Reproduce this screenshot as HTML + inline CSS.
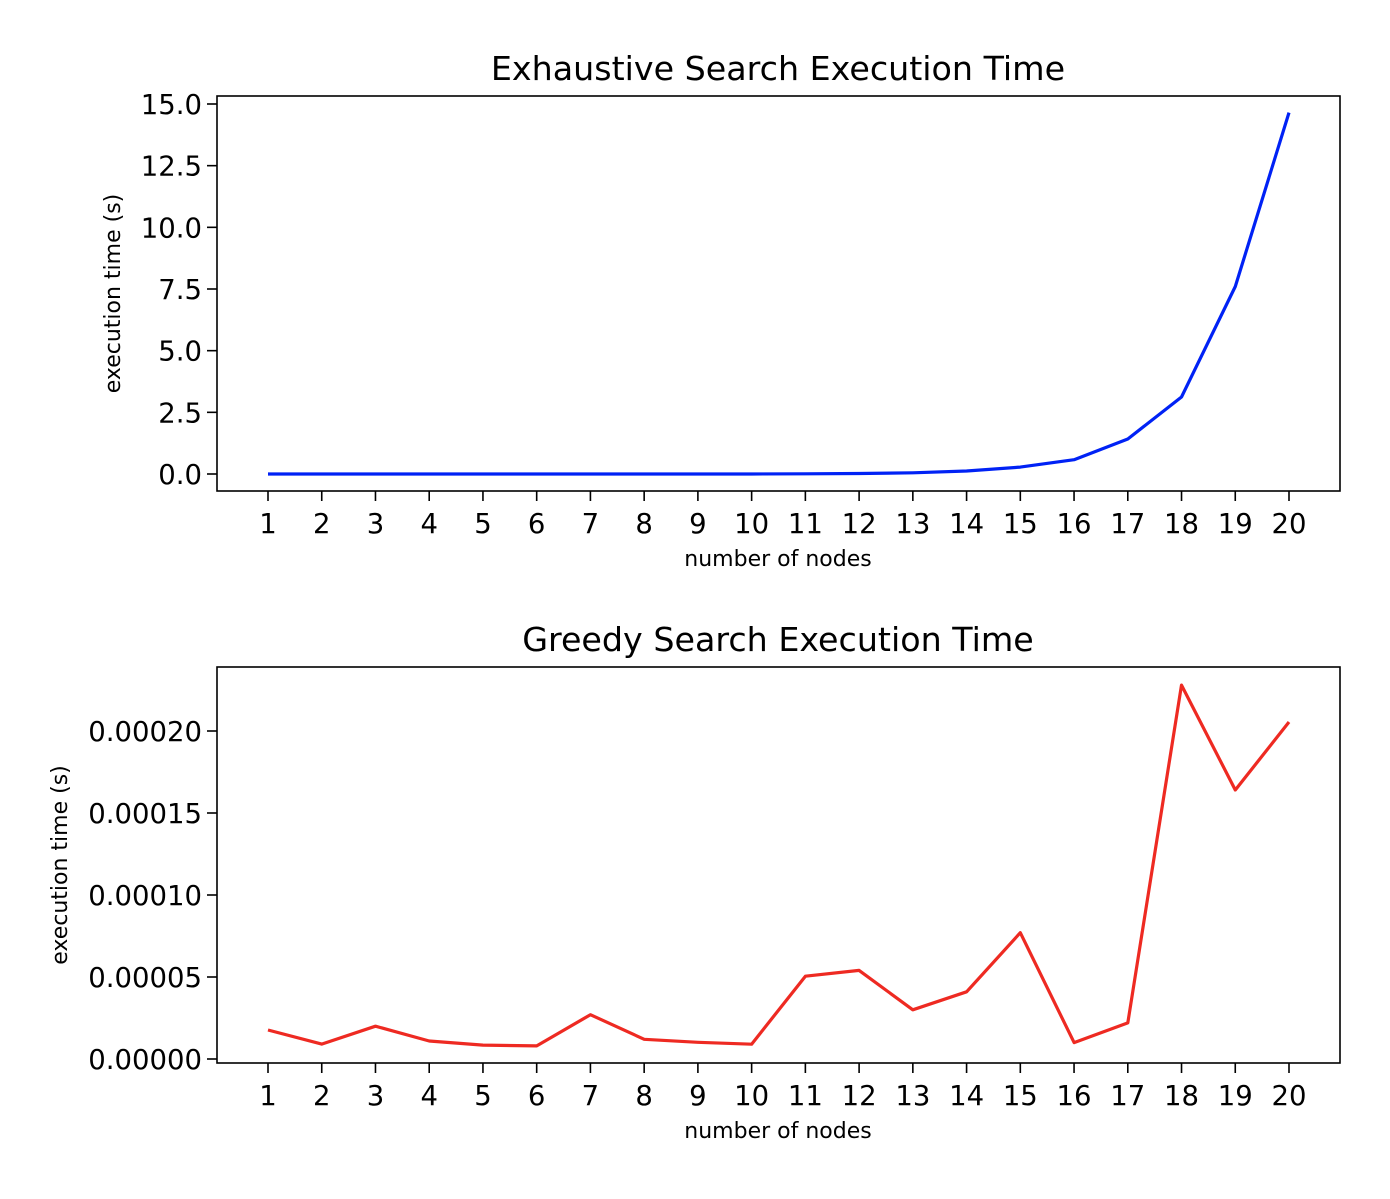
<!DOCTYPE html>
<html><head><meta charset="utf-8"><style>
body{margin:0;background:#fff}
svg{font-family:"DejaVu Sans","Liberation Sans",sans-serif}
</style></head><body>
<svg id="c" width="1390" height="1194" viewBox="0 0 1390 1194" xmlns="http://www.w3.org/2000/svg"></svg>
<script>
const nodes=[1,2,3,4,5,6,7,8,9,10,11,12,13,14,15,16,17,18,19,20];
const exhaustiveTimes=[0,0,0,0,0,0,0,0,0,0,0.01,0.02,0.05,0.12,0.28,0.58,1.42,3.12,7.6,14.65];
const greedyTimes=[1.77e-5,0.91e-5,2.0e-5,1.1e-5,0.85e-5,0.8e-5,2.7e-5,1.2e-5,1.02e-5,0.9e-5,5.05e-5,5.4e-5,3.0e-5,4.1e-5,7.7e-5,1.0e-5,2.2e-5,22.8e-5,16.4e-5,20.55e-5];
const exhaustiveTicks=[0,2.5,5,7.5,10,12.5,15];
const exhaustiveTickLabels=["0.0","2.5","5.0","7.5","10.0","12.5","15.0"];
const greedyTicks=[0,5e-5,10e-5,15e-5,20e-5];
const greedyTickLabels=["0.00000","0.00005","0.00010","0.00015","0.00020"];
const NS="http://www.w3.org/2000/svg";
const svg=document.getElementById('c');
function mk(tag,attrs,parent){const e=document.createElementNS(NS,tag);for(const k in attrs)e.setAttribute(k,attrs[k]);(parent||svg).appendChild(e);return e;}
function panel(cfg){
  const g=mk('g',{});
  
  
  const L=217,R=1340,T=cfg.top,B=cfg.bottom;
  const x=v=>268+(v-1)*(1289-268)/19;
  const y=v=>cfg.y0+(v-cfg.v0)*(cfg.y1-cfg.y0)/(cfg.v1-cfg.v0);
  const fr=mk('rect',{x:L,y:T,width:R-L,height:B-T,fill:'none',stroke:'#000','stroke-width':1.6},g);
  
  
  nodes.forEach(n=>{
    mk('line',{x1:x(n),x2:x(n),y1:B,y2:B+10,stroke:'#000','stroke-width':1.6},g);
    const t=mk('text',{x:x(n),y:B+42,'text-anchor':'middle','font-size':27.5},g);t.textContent=n;
    
    
  });
  cfg.ticks.forEach((v,i)=>{
    mk('line',{x1:L-10,x2:L,y1:y(v),y2:y(v),stroke:'#000','stroke-width':1.6},g);
    const t=mk('text',{x:L-15,y:y(v)+10,'text-anchor':'end','font-size':27.5},g);t.textContent=cfg.labels[i];
    
    
  });
  const pts=cfg.data.map((v,i)=>x(nodes[i]).toFixed(1)+','+y(v).toFixed(1)).join(' ');
  const pl=mk('polyline',{points:pts,fill:'none',stroke:cfg.color,'stroke-width':3.2,'stroke-linejoin':'round'},g);
  
  
  const ti=mk('text',{x:778,y:T-16,'text-anchor':'middle','font-size':33.3},g);ti.textContent=cfg.title;
  
  
  const xl=mk('text',{x:778,y:B+75,'text-anchor':'middle','font-size':22},g);xl.textContent='number of nodes';
  
  
  const cy=(T+B)/2;
  const yl=mk('text',{x:cfg.ylx,y:cy,'text-anchor':'middle','font-size':22,transform:`rotate(-90 ${cfg.ylx} ${cy})`},g);yl.textContent='execution time (s)';
  
  
}
panel({name:'exhaustive-panel',top:96,bottom:491,y0:474,v0:0,y1:104,v1:15,ticks:exhaustiveTicks,labels:exhaustiveTickLabels,data:exhaustiveTimes,color:'#0022f5',title:'Exhaustive Search Execution Time',ylx:120,lineName:'exhaustive-line'});
panel({name:'greedy-panel',top:667,bottom:1063,y0:1059,v0:0,y1:731,v1:2e-4,ticks:greedyTicks,labels:greedyTickLabels,data:greedyTimes,color:'#ee2a22',title:'Greedy Search Execution Time',ylx:67,lineName:'greedy-line'});
</script>
</body></html>
